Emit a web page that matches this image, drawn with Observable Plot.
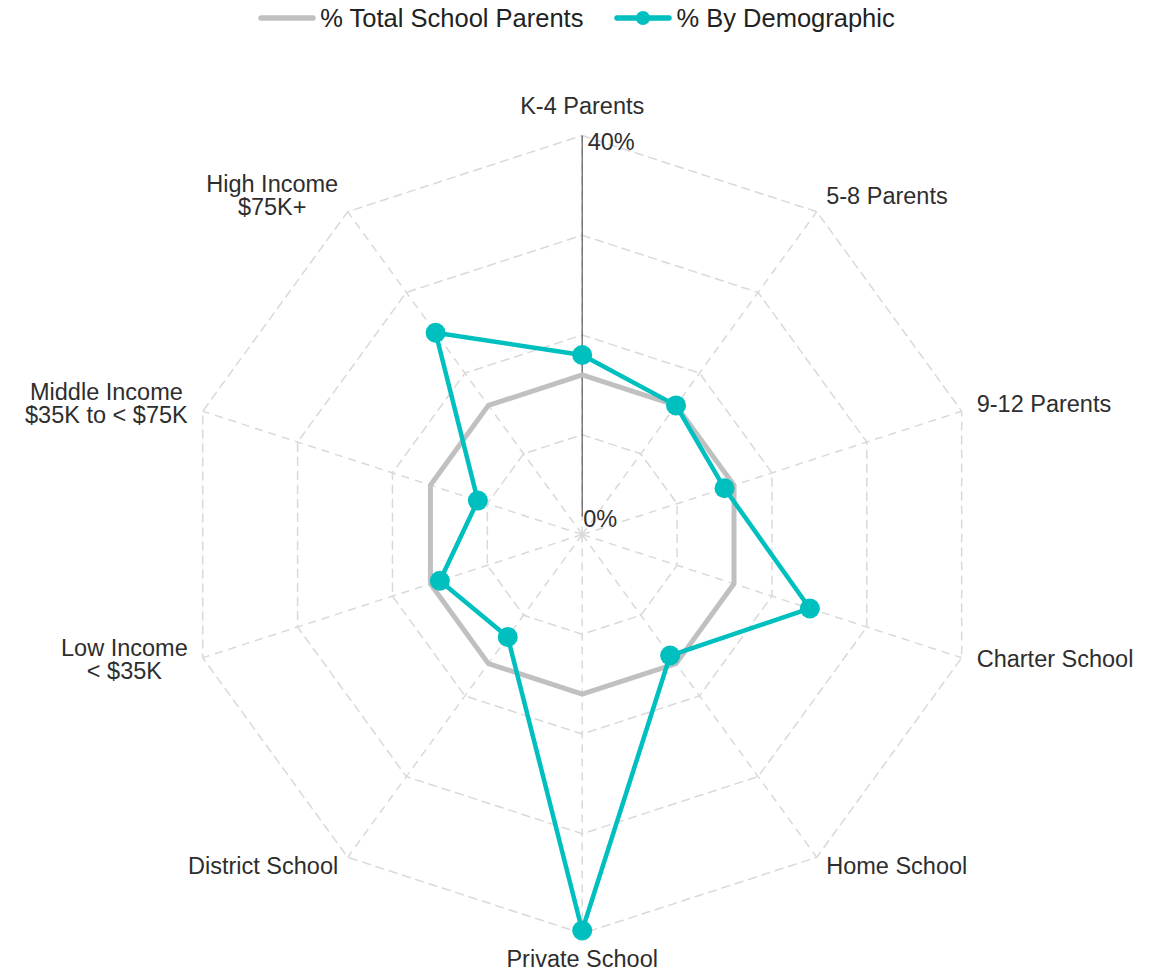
<!DOCTYPE html>
<html>
<head>
<meta charset="utf-8">
<script src="https://cdn.jsdelivr.net/npm/d3@7"></script>
<script src="https://cdn.jsdelivr.net/npm/@observablehq/plot@0.6"></script>
<style>
  html, body { margin: 0; padding: 0; background: #fff; }
  body { width: 1163px; font-family: "Liberation Sans", Arial, sans-serif; }
  #legend { height: 36px; display: flex; justify-content: center; align-items: center;
            font-size: 25.5px; color: #222; padding-right: 10px; box-sizing: border-box; }
  .item { display: flex; align-items: center; }
  .item + .item { margin-left: 31px; }
  .item span { margin-left: 4px; }
</style>
</head>
<body>
<div id="legend"></div>
<div id="chart"></div>
<script>
// ---- data ----
const axes = [
  "K-4 Parents", "5-8 Parents", "9-12 Parents", "Charter School", "Home School",
  "Private School", "District School", "Low Income\n< $35K",
  "Middle Income\n$35K to < $75K", "High Income\n$75K+"
];
const totalSchoolParents = [16, 16, 16, 16, 16, 16, 16, 16, 16, 16];
const byDemographic = [18, 16, 15, 24, 15, 39.7, 12.7, 15, 11, 25];
const ringTicks = [10, 20, 30, 40];
const tickLabels = [{v: 0, label: "0%"}, {v: 40, label: "40%"}];
const seriesNames = ["% Total School Parents", "% By Demographic"];

// ---- styles ----
const GRAY = "#c0c0c0", TEAL = "#00bfbf", GRID = "#d9d9d9", TEXT = "#2e2e2e";
const FONT = '"Liberation Sans", Arial, sans-serif';
const FS = 23.5;
const rMax = d3.max(ringTicks);

// ---- geometry helpers ----
const n = axes.length;
const ang = i => (i * 2 * Math.PI) / n;
const pt = (v, i) => ({x: v * Math.sin(ang(i)), y: v * Math.cos(ang(i))});

const ringData = ringTicks.flatMap(r => axes.map((a, i) => ({ring: r, ...pt(r, i)})));
const spokes = axes.map((a, i) => ({...pt(rMax, i)}));
const totalData = totalSchoolParents.map((v, i) => ({axis: axes[i], v, ...pt(v, i)}));
const demoData = byDemographic.map((v, i) => ({axis: axes[i], v, ...pt(v, i)}));

// ---- label placement (offsets in px) ----
const canvas = document.createElement("canvas");
const ctx = canvas.getContext("2d");
ctx.font = `${FS}px ${FONT}`;
const labelDy = [-29.5, -15.5, -7, 2, 9, 25.5, 9, 2, -7, -15.5];
function labelMark(i) {
  const s = Math.sin(ang(i));
  const gap = Math.abs(s) > 0.9 ? 15 : 9.5;
  const lines = axes[i].split("\n");
  const w = d3.max(lines, l => ctx.measureText(l).width);
  let textAnchor = "middle", dx = 0;
  if (s > 0.01) { textAnchor = "start"; dx = gap; }
  else if (s < -0.01) {
    if (lines.length > 1) { textAnchor = "middle"; dx = -(gap + w / 2); }
    else { textAnchor = "end"; dx = -gap; }
  }
  return Plot.text([{...pt(rMax, i), t: axes[i]}], {
    x: "x", y: "y", text: "t", textAnchor, dx, dy: labelDy[i],
    fontSize: FS, lineHeight: 1.0, fill: TEXT
  });
}

// ---- chart ----
const W = 1163, H = 935, cx = 581.7, cy = 498, k = 399 / rMax;
const chart = Plot.plot({
  width: W, height: H, margin: 0,
  x: {domain: [-cx / k, (W - cx) / k], axis: null},
  y: {domain: [-(H - cy) / k, cy / k], axis: null},
  style: {fontFamily: FONT, background: "white"},
  marks: [
    Plot.line(ringData, {x: "x", y: "y", z: "ring", curve: "linear-closed",
      stroke: GRID, strokeWidth: 1.5, strokeDasharray: "8,6"}),
    Plot.link(spokes, {x1: () => 0, y1: () => 0, x2: "x", y2: "y",
      stroke: GRID, strokeWidth: 1.5, strokeDasharray: "8,6"}),
    // radial value axis (stops just above the centre, where the 0% label sits)
    Plot.link([{v: rMax}], {x1: () => 0, y1: () => 18 / k, x2: () => 0, y2: "v",
      stroke: "#5a5a5a", strokeWidth: 1.2}),
    Plot.line(totalData, {x: "x", y: "y", curve: "linear-closed",
      stroke: GRAY, strokeWidth: 5, strokeLinejoin: "miter"}),
    Plot.line(demoData, {x: "x", y: "y", curve: "linear-closed",
      stroke: TEAL, strokeWidth: 4.5}),
    Plot.dot(demoData, {x: "x", y: "y", r: 10, fill: TEAL}),
    Plot.text(tickLabels.filter(d => d.v === rMax), {x: () => 0, y: "v", text: "label",
      textAnchor: "start", dx: 5.5, dy: 6.8, fontSize: FS, fill: TEXT}),
    Plot.text(tickLabels.filter(d => d.v === 0), {x: () => 0, y: "v", text: "label",
      textAnchor: "start", dx: 1, dy: -14.8, fontSize: FS, fill: TEXT}),
    ...axes.map((a, i) => labelMark(i))
  ]
});
document.getElementById("chart").appendChild(chart);

// ---- legend ----
const legend = document.getElementById("legend");
legend.innerHTML = `
  <div class="item"><svg width="58" height="20"><line x1="3" x2="55" y1="10" y2="10" stroke="${GRAY}" stroke-width="5.5" stroke-linecap="round"/></svg><span>${seriesNames[0]}</span></div>
  <div class="item"><svg width="58" height="20"><line x1="3" x2="55" y1="10" y2="10" stroke="${TEAL}" stroke-width="5.5" stroke-linecap="round"/><circle cx="29" cy="10" r="7" fill="${TEAL}"/></svg><span>${seriesNames[1]}</span></div>`;
</script>
</body>
</html>
